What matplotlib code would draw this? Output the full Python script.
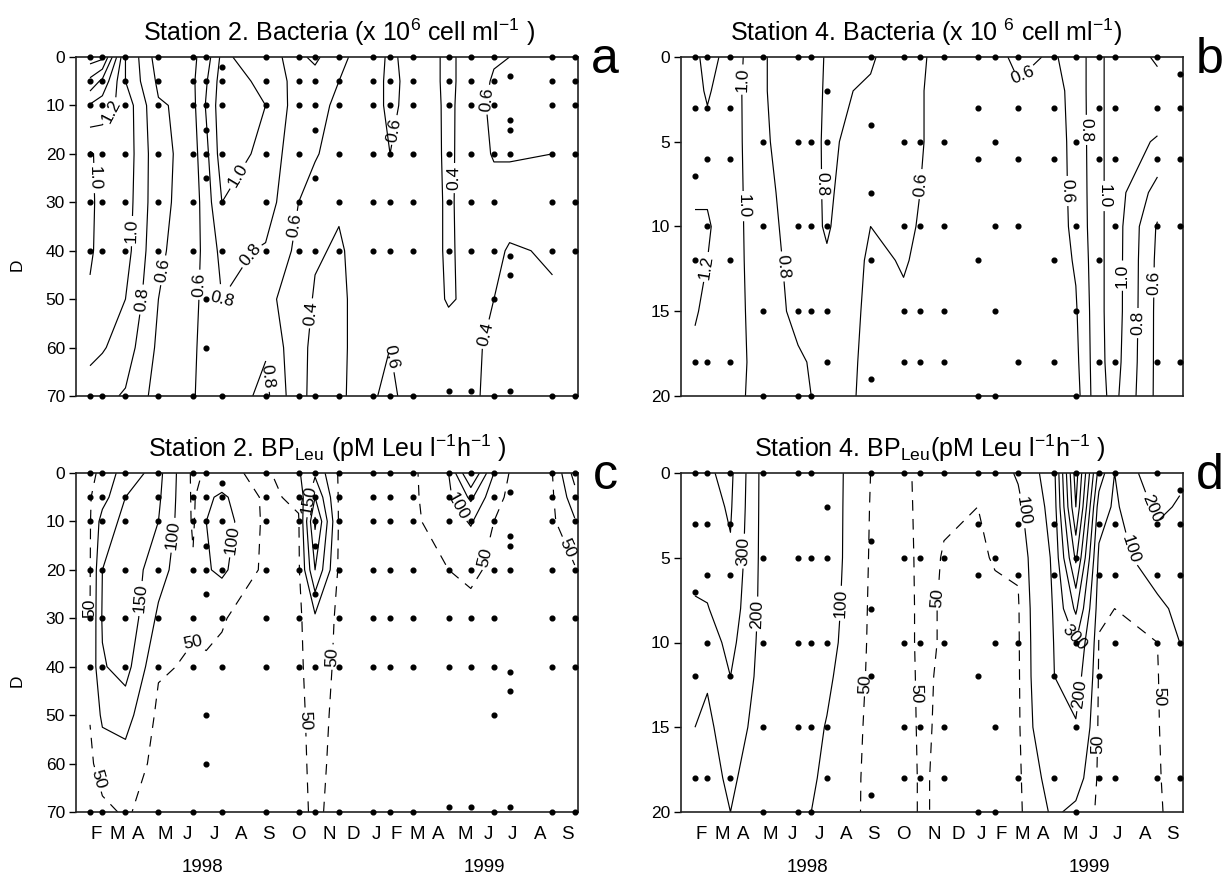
import datetime as dt
import numpy as np
import matplotlib
matplotlib.use("Agg")
import matplotlib.pyplot as plt
from matplotlib.transforms import blended_transform_factory

plt.rcParams['font.family'] = ['Liberation Sans', 'DejaVu Sans']
plt.rcParams['mathtext.fontset'] = 'custom'
plt.rcParams['mathtext.rm'] = 'Liberation Sans'
plt.rcParams['mathtext.it'] = 'Liberation Sans:italic'
plt.rcParams['mathtext.bf'] = 'Liberation Sans:bold'

# ---------------- data ----------------
# sampling dates, days since 1 Jan 1998 (same cruises for both stations)
DATES = [42, 57, 85, 125, 167, 183, 202, 255, 295, 315, 344, 385, 406, 434,
         477, 504, 532, 551, 603, 630]
MONTHS = ['F', 'M', 'A', 'M', 'J', 'J', 'A', 'S', 'O', 'N', 'D',
          'J', 'F', 'M', 'A', 'M', 'J', 'J', 'A', 'S']
YEARS = ['1998', '1999']

ST2_DEPTHS = [0, 5, 10, 20, 30, 40, 50, 60, 70]
ST4_DEPTHS = [0, 2, 5, 8, 10, 12, 15, 18, 20]

# depths actually sampled on each date (dots)
ST2_SAMPLES = [
    [0, 5, 10, 20, 30, 40, 70], [0, 5, 10, 20, 30, 40, 70],
    [0, 5, 10, 20, 30, 40, 70], [0, 5, 10, 20, 30, 40, 70],
    [0, 5, 10, 20, 30, 40, 70], [0, 5, 10, 15, 20, 25, 50, 60],
    [2, 5, 10, 20, 30, 40, 70], [0, 5, 10, 20, 30, 40, 70],
    [0, 5, 10, 20, 30, 40, 70], [0, 5, 10, 15, 25, 40, 70],
    [0, 5, 10, 20, 30, 40, 70], [0, 5, 10, 20, 30, 40, 70],
    [0, 5, 10, 20, 30, 40, 70], [0, 5, 10, 20, 30, 40, 70],
    [0, 5, 10, 20, 30, 40, 69], [0, 5, 10, 20, 30, 40, 69],
    [0, 5, 10, 20, 30, 40, 50, 70], [4, 13, 15, 20, 41, 45, 69],
    [0, 5, 10, 20, 30, 40, 70], [0, 5, 10, 20, 30, 40, 70]]
ST4_SAMPLES = [
    [0, 3, 7, 12, 18], [0, 3, 6, 10, 18], [0, 3, 6, 12, 18],
    [0, 5, 10, 15, 20], [0, 5, 10, 15, 20], [0, 5, 10, 15, 20],
    [2, 5, 10, 15, 18], [0, 4, 8, 12, 19], [0, 5, 10, 15, 18],
    [0, 5, 10, 15, 18], [0, 5, 10, 15, 18], [0, 3, 6, 12, 20],
    [0, 5, 10, 15, 20], [0, 3, 6, 10, 18], [0, 3, 6, 12, 18],
    [0, 5, 10, 15, 20], [0, 3, 6, 12, 18], [0, 3, 6, 10, 18],
    [0, 3, 6, 10, 18], [1, 3, 6, 10, 18]]

# profiles per date (values at ST2_DEPTHS / ST4_DEPTHS)
N = np.nan
BACT_ST2 = [
    [2.10, 1.75, 1.38, 0.98, 0.97, 0.98, 1.02, 1.03, 0.95],
    [2.05, 1.55, 1.30, 1.05, 1.05, 1.05, 1.05, 1.02, 0.85],
    [1.00, 1.00, 1.12, 1.12, 1.10, 1.08, 1.00, 0.90, 0.78],
    [0.50, 0.56, 0.62, 0.66, 0.66, 0.63, 0.60, 0.56, 0.52],
    [0.56, 0.57, 0.55, 0.52, 0.50, 0.50, 0.52, 0.55, 0.58],
    [0.70, 0.78, 0.82, 0.75, 0.70, 0.68, 0.70, 0.72, 0.70],
    [1.05, 1.10, 1.12, 1.10, 1.00, 0.85, 0.80, 0.72, 0.68],
    [0.85, 0.95, 1.00, 0.95, 0.90, 0.78, 0.65, 0.78, 0.85],
    [0.75, 0.72, 0.70, 0.65, 0.60, 0.55, 0.50, 0.45, 0.45],
    [0.85, 0.70, 0.68, 0.62, 0.50, 0.42, 0.38, 0.36, 0.35],
    [0.62, 0.60, 0.55, 0.50, 0.42, 0.38, 0.36, 0.35, 0.35],
    [0.55, 0.55, 0.55, 0.52, 0.50, 0.50, 0.52, 0.55, 0.58],
    [0.62, 0.63, 0.63, 0.60, 0.55, 0.52, 0.55, 0.60, 0.65],
    [0.56, 0.56, 0.55, 0.52, 0.50, 0.50, 0.48, 0.48, 0.50],
    [0.35, 0.35, 0.36, 0.37, 0.38, 0.38, 0.39, 0.45, 0.50],
    [0.50, 0.50, 0.50, 0.48, 0.46, 0.45, 0.42, 0.42, 0.42],
    [0.58, 0.62, 0.65, 0.62, 0.50, 0.45, 0.40, 0.38, 0.37],
    [0.60, 0.65, 0.68, 0.62, 0.50, 0.38, 0.35, 0.35, 0.38],
    [0.62, 0.60, 0.62, 0.60, 0.48, 0.42, 0.38, 0.35, 0.35],
    [N, N, N, N, N, N, N, N, N]]
BACT_ST4 = [
    [1.15, 1.15, 1.16, 1.18, 1.22, 1.25, 1.22, 1.15, 1.12],
    [1.28, 1.22, 1.15, 1.18, 1.22, 1.20, 1.15, 1.10, 1.10],
    [1.12, 1.10, 1.10, 1.10, 1.10, 1.10, 1.10, 1.10, 1.10],
    [0.81, 0.81, 0.82, 0.84, 0.85, 0.86, 0.88, 0.90, 0.88],
    [0.72, 0.72, 0.72, 0.73, 0.74, 0.75, 0.76, 0.82, 0.86],
    [0.72, 0.72, 0.73, 0.74, 0.75, 0.76, 0.78, 0.79, 0.80],
    [0.82, 0.83, 0.84, 0.83, 0.82, 0.78, 0.74, 0.72, 0.70],
    [0.82, 0.78, 0.70, 0.65, 0.60, 0.57, 0.56, 0.55, 0.55],
    [0.70, 0.68, 0.66, 0.64, 0.63, 0.61, 0.58, 0.57, 0.57],
    [0.62, 0.61, 0.61, 0.60, 0.59, 0.58, 0.57, 0.56, 0.56],
    [0.55, 0.55, 0.55, 0.55, 0.55, 0.55, 0.55, 0.55, 0.55],
    [0.53, 0.53, 0.53, 0.53, 0.53, 0.53, 0.53, 0.53, 0.53],
    [0.55, 0.55, 0.55, 0.55, 0.55, 0.55, 0.55, 0.55, 0.55],
    [0.64, 0.58, 0.56, 0.55, 0.55, 0.55, 0.55, 0.55, 0.55],
    [0.58, 0.52, 0.50, 0.50, 0.50, 0.50, 0.50, 0.50, 0.50],
    [0.68, 0.68, 0.67, 0.66, 0.65, 0.62, 0.58, 0.55, 0.52],
    [0.95, 0.95, 0.95, 0.95, 0.95, 0.95, 0.95, 0.95, 0.95],
    [1.10, 1.10, 1.10, 1.10, 1.10, 1.10, 1.10, 1.08, 1.05],
    [1.22, 1.15, 0.98, 0.72, 0.58, 0.56, 0.55, 0.55, 0.55],
    [N, N, N, N, N, N, N, N, N]]
BP_ST2 = [
    [45, 47, 47, 48, 50, 60, 52, 42, 38],
    [55, 80, 120, 150, 155, 145, 110, 70, 40],
    [130, 150, 165, 185, 190, 170, 120, 80, 55],
    [165, 158, 150, 120, 90, 55, 40, 35, 30],
    [40, 42, 44, 55, 55, 45, 40, 35, 30],
    [55, 90, 100, 95, 60, 45, 40, 35, 30],
    [60, 110, 125, 110, 52, 45, 40, 35, 30],
    [40, 40, 40, 38, 35, 32, 30, 30, 30],
    [95, 60, 45, 42, 40, 38, 36, 35, 35],
    [140, 200, 260, 200, 90, 80, 70, 65, 60],
    [45, 45, 45, 42, 40, 38, 36, 34, 32],
    [35, 35, 35, 35, 35, 35, 35, 35, 35],
    [38, 38, 38, 36, 35, 35, 35, 35, 35],
    [42, 42, 42, 40, 38, 36, 35, 35, 35],
    [100, 90, 75, 50, 40, 38, 36, 35, 35],
    [260, 160, 105, 55, 42, 40, 38, 36, 35],
    [100, 65, 50, 45, 40, 38, 36, 35, 35],
    [48, 42, 40, 38, 36, 35, 35, 35, 35],
    [50, 45, 42, 40, 38, 36, 35, 35, 35],
    [170, 130, 95, 45, 40, 38, 36, 35, 35]]
BP_ST4 = [
    [380, 360, 330, 290, 260, 230, 200, 190, 185],
    [390, 370, 340, 295, 250, 210, 180, 170, 170],
    [420, 410, 390, 360, 330, 300, 250, 215, 200],
    [165, 165, 165, 165, 162, 160, 155, 145, 140],
    [150, 150, 145, 140, 135, 130, 125, 120, 115],
    [140, 140, 140, 135, 130, 125, 115, 105, 100],
    [130, 130, 130, 125, 120, 110, 97, 92, 90],
    [50, 48, 46, 44, 43, 42, 40, 38, 38],
    [40, 40, 40, 40, 40, 40, 40, 40, 40],
    [60, 58, 56, 55, 55, 54, 53, 52, 52],
    [55, 52, 49, 48, 48, 47, 47, 47, 47],
    [52, 50, 48, 45, 44, 43, 42, 42, 42],
    [60, 58, 51, 47, 45, 44, 43, 42, 42],
    [110, 80, 55, 46, 45, 44, 43, 42, 42],
    [260, 240, 215, 205, 200, 198, 180, 130, 110],
    [850, 800, 620, 420, 300, 250, 190, 130, 85],
    [260, 150, 80, 55, 48, 45, 43, 42, 42],
    [100, 85, 65, 50, 45, 42, 40, 40, 40],
    [280, 220, 150, 80, 50, 48, 47, 46, 45],
    [220, 190, 150, 120, 100, 90, 80, 70, 65]]

BACT2_LEVELS = [0.4, 0.6, 0.8, 1.0, 1.2, 1.4, 1.6, 1.8, 2.0]
BACT4_LEVELS = [0.6, 0.8, 1.0, 1.2]
BP2_LEVELS = [50, 100, 150, 200, 250]
BP4_LEVELS = [50, 100, 200, 300, 400, 500, 600, 700, 800]

TITLES = [r"Station 2. Bacteria (x 10$^{6}$ cell ml$^{-1}$ )",
          r"Station 4. Bacteria (x 10 $^{6}$ cell ml$^{-1}$)",
          r"Station 2. BP$_{\mathregular{Leu}}$ (pM Leu l$^{-1}$h$^{-1}$ )",
          r"Station 4. BP$_{\mathregular{Leu}}$(pM Leu l$^{-1}$h$^{-1}$ )"]
LETTERS = ['a', 'b', 'c', 'd']

# ---------------- layout ----------------
W, H = 1225, 877
fig = plt.figure(figsize=(W / 100, H / 100), dpi=100)


def ax_at(x0, y0, x1, y1):
    return fig.add_axes([x0 / W, 1 - y1 / H, (x1 - x0) / W, (y1 - y0) / H])


axes = [ax_at(76, 57, 578, 396), ax_at(681, 57, 1183, 396),
        ax_at(76, 473, 578, 812), ax_at(681, 473, 1183, 812)]
TITLE_X = [0.524, 0.488, 0.50, 0.496]

# where the month letters sit (days since 1 Jan 1998)
MONTH_TICKS = [50, 75.5, 100.5, 133, 159.6, 192.5, 226, 258, 295, 332, 361,
               390, 413.5, 439, 465, 497.6, 525.6, 554, 588, 621]
YEAR_TICKS = [178, 520]

# where contour labels are placed along the lines: (day, depth)
LABEL_SPOTS = [
    [(75, 12), (46, 25), (101, 36), (101, 50), (129, 44), (170, 47), (200, 54),
     (229, 40), (236, 26), (297, 35), (314, 53), (260, 66), (409, 15), (409, 62),
     (485, 25), (541, 58), (568, 10)],
    [(83, 1.3), (57, 12.4), (97, 8.8), (138, 12.4), (199, 7.5), (316, 7.5),
     (439, 1.1), (518, 4.3), (501, 7.9), (534, 8.2), (565, 12.9), (582, 15.7),
     (598, 13.3)],
    [(38, 28), (108, 26), (150, 13), (221, 14), (164, 34), (57, 63), (306, 5.5),
     (335, 38), (311, 51), (477, 8), (510, 17), (615, 16)],
    [(95, 4.6), (109, 8.3), (225, 7.7), (235, 12.4), (311, 13), (347, 7.4),
     (446, 2.2), (491, 9.9), (503, 13), (529, 16), (579, 4.4), (591, 2.2),
     (610, 13.2)],
]

panels = [
    (BACT_ST2, ST2_DEPTHS, ST2_SAMPLES, BACT2_LEVELS, [0.4, 0.6, 0.8, 1.0, 1.2], '%.1f', 70, [0, 10, 20, 30, 40, 50, 60, 70]),
    (BACT_ST4, ST4_DEPTHS, ST4_SAMPLES, BACT4_LEVELS, [0.6, 0.8, 1.0, 1.2], '%.1f', 20, [0, 5, 10, 15, 20]),
    (BP_ST2, ST2_DEPTHS, ST2_SAMPLES, BP2_LEVELS, [50, 100, 150], '%d', 70, [0, 10, 20, 30, 40, 50, 60, 70]),
    (BP_ST4, ST4_DEPTHS, ST4_SAMPLES, BP4_LEVELS, [50, 100, 200, 300], '%d', 20, [0, 5, 10, 15, 20]),
]

for i, (ax, (vals, depths, samples, levels, lab_levels, fmt, dmax, yt)) in enumerate(zip(axes, panels)):
    ax.set_xlim(25, 634)
    ax.set_ylim(dmax, 0)
    Z = np.ma.masked_invalid(np.array(vals, dtype=float).T)
    styles = [(0, (9, 7)) if lv == 50 else 'solid' for lv in levels]
    cs = ax.contour(DATES, depths, Z, levels=levels, colors='black',
                    linewidths=0.85, linestyles=styles)
    lab = [l for l in lab_levels if l in cs.levels]
    try:
        ax.clabel(cs, levels=lab, fmt=fmt, fontsize=12.5, inline=True,
                  inline_spacing=3, manual=LABEL_SPOTS[i])
    except Exception:
        ax.clabel(cs, levels=lab, fmt=fmt, fontsize=12.5, inline=True,
                  inline_spacing=3)
    xs = [d for d, col in zip(DATES, samples) for _ in col]
    ys = [z for col in samples for z in col]
    ax.plot(xs, ys, 'o', color='black', ms=3.4, mec='black', clip_on=False, zorder=5)

    ax.set_yticks(yt)
    ax.tick_params(axis='y', direction='out', length=5, width=1.0, labelsize=12.5, pad=3)
    for sp in ax.spines.values():
        sp.set_linewidth(1.2)
        sp.set_color('#222222')
    if i >= 2:
        ax.set_xticks(MONTH_TICKS)
        ax.set_xticklabels(MONTHS)
        ax.tick_params(axis='x', length=0, labelsize=13.5, pad=10)
        tr = blended_transform_factory(ax.transData, ax.transAxes)
        for yp, yl in zip(YEAR_TICKS, YEARS):
            ax.text(yp, -0.165, yl, transform=tr, ha='center', va='center', fontsize=13.5)
    else:
        ax.set_xticks([])
    if i in (0, 2):
        ax.text(-0.1175, 0.388, 'D', transform=ax.transAxes, rotation=90,
                ha='center', va='center', fontsize=12.5)
    ax.text(TITLE_X[i], 1.047, TITLES[i], transform=ax.transAxes, ha='center',
            va='baseline', fontsize=18)
    ax.text(1.054, 0.952, LETTERS[i], transform=ax.transAxes, ha='center',
            va='baseline', fontsize=36)

fig.savefig('out.png', dpi=100)
